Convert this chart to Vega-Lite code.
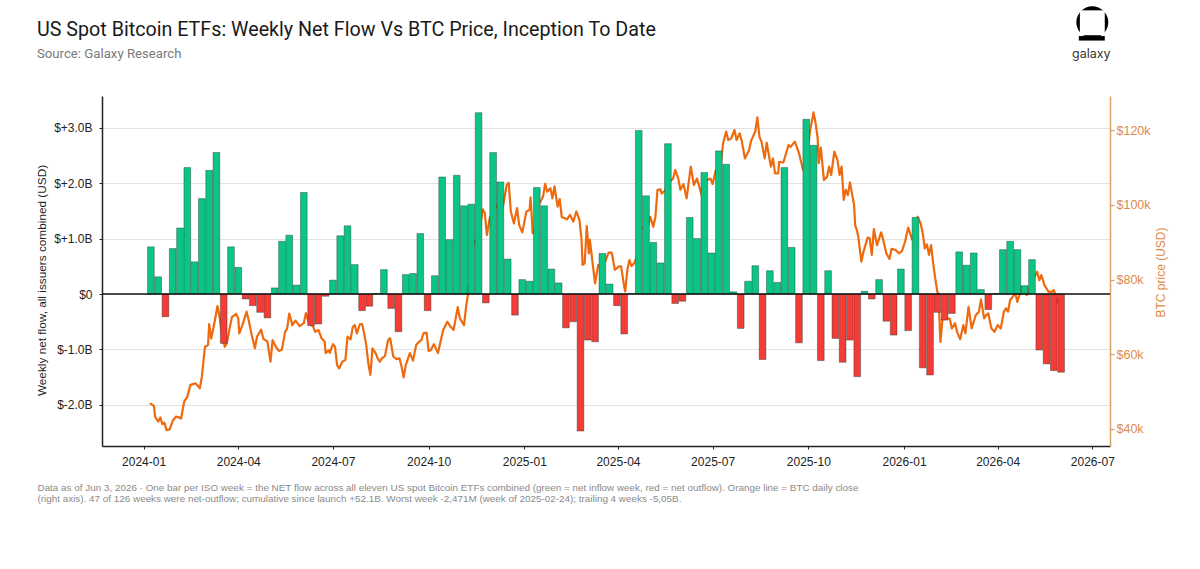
{"$schema":"https://vega.github.io/schema/vega-lite/v6.json","width":1008,"height":350,"autosize":{"type":"none"},"padding":{"left":102,"top":96,"right":90,"bottom":123},"background":"white",
"title":{"text":"US Spot Bitcoin ETFs: Weekly Net Flow Vs BTC Price, Inception To Date","subtitle":"Source: Galaxy Research","anchor":"start","frame":"group","dx":-65,"offset":-54,"font":"Roboto","fontSize":19.7,"fontWeight":"normal","color":"#1a1a1a","subtitleFont":"Roboto","subtitleFontSize":13.2,"subtitleColor":"#7a7a7a","subtitlePadding":8},
"datasets":{"flows":[
{"week":"2024-01-08","flow":0.85},{"week":"2024-01-15","flow":0.31},{"week":"2024-01-22","flow":-0.41},{"week":"2024-01-29","flow":0.82},{"week":"2024-02-05","flow":1.19},{"week":"2024-02-12","flow":2.28},{"week":"2024-02-19","flow":0.58},{"week":"2024-02-26","flow":1.72},{"week":"2024-03-04","flow":2.23},{"week":"2024-03-11","flow":2.55},{"week":"2024-03-18","flow":-0.89},{"week":"2024-03-25","flow":0.85},{"week":"2024-04-01","flow":0.48},{"week":"2024-04-08","flow":-0.09},{"week":"2024-04-15","flow":-0.21},{"week":"2024-04-22","flow":-0.33},{"week":"2024-04-29","flow":-0.43},{"week":"2024-05-06","flow":0.11},{"week":"2024-05-13","flow":0.95},{"week":"2024-05-20","flow":1.06},{"week":"2024-05-27","flow":0.16},{"week":"2024-06-03","flow":1.83},{"week":"2024-06-10","flow":-0.57},{"week":"2024-06-17","flow":-0.54},{"week":"2024-06-24","flow":-0.04},{"week":"2024-07-01","flow":0.25},{"week":"2024-07-08","flow":1.05},{"week":"2024-07-15","flow":1.23},{"week":"2024-07-22","flow":0.53},{"week":"2024-07-29","flow":-0.30},{"week":"2024-08-05","flow":-0.22},{"week":"2024-08-12","flow":0.01},{"week":"2024-08-19","flow":0.44},{"week":"2024-08-26","flow":-0.26},{"week":"2024-09-02","flow":-0.68},{"week":"2024-09-09","flow":0.35},{"week":"2024-09-16","flow":0.37},{"week":"2024-09-23","flow":1.09},{"week":"2024-09-30","flow":-0.30},{"week":"2024-10-07","flow":0.33},{"week":"2024-10-14","flow":2.11},{"week":"2024-10-21","flow":0.98},{"week":"2024-10-28","flow":2.14},{"week":"2024-11-04","flow":1.59},{"week":"2024-11-11","flow":1.62},{"week":"2024-11-18","flow":3.27},{"week":"2024-11-25","flow":-0.16},{"week":"2024-12-02","flow":2.55},{"week":"2024-12-09","flow":2.02},{"week":"2024-12-16","flow":0.63},{"week":"2024-12-23","flow":-0.38},{"week":"2024-12-30","flow":0.26},{"week":"2025-01-06","flow":0.23},{"week":"2025-01-13","flow":1.92},{"week":"2025-01-20","flow":1.59},{"week":"2025-01-27","flow":0.45},{"week":"2025-02-03","flow":0.20},{"week":"2025-02-10","flow":-0.61},{"week":"2025-02-17","flow":-0.50},{"week":"2025-02-24","flow":-2.47},{"week":"2025-03-03","flow":-0.83},{"week":"2025-03-10","flow":-0.86},{"week":"2025-03-17","flow":0.73},{"week":"2025-03-24","flow":0.18},{"week":"2025-03-31","flow":-0.21},{"week":"2025-04-07","flow":-0.72},{"week":"2025-04-14","flow":0.01},{"week":"2025-04-21","flow":2.95},{"week":"2025-04-28","flow":1.77},{"week":"2025-05-05","flow":0.93},{"week":"2025-05-12","flow":0.56},{"week":"2025-05-19","flow":2.71},{"week":"2025-05-26","flow":-0.17},{"week":"2025-06-02","flow":-0.13},{"week":"2025-06-09","flow":1.38},{"week":"2025-06-16","flow":1.0},{"week":"2025-06-23","flow":2.19},{"week":"2025-06-30","flow":0.74},{"week":"2025-07-07","flow":2.58},{"week":"2025-07-14","flow":2.34},{"week":"2025-07-21","flow":0.04},{"week":"2025-07-28","flow":-0.62},{"week":"2025-08-04","flow":0.23},{"week":"2025-08-11","flow":0.51},{"week":"2025-08-18","flow":-1.18},{"week":"2025-08-25","flow":0.42},{"week":"2025-09-01","flow":0.21},{"week":"2025-09-08","flow":2.28},{"week":"2025-09-15","flow":0.84},{"week":"2025-09-22","flow":-0.88},{"week":"2025-09-29","flow":3.15},{"week":"2025-10-06","flow":2.68},{"week":"2025-10-13","flow":-1.20},{"week":"2025-10-20","flow":0.42},{"week":"2025-10-27","flow":-0.80},{"week":"2025-11-03","flow":-1.23},{"week":"2025-11-10","flow":-0.83},{"week":"2025-11-17","flow":-1.49},{"week":"2025-11-24","flow":0.05},{"week":"2025-12-01","flow":-0.09},{"week":"2025-12-08","flow":0.26},{"week":"2025-12-15","flow":-0.49},{"week":"2025-12-22","flow":-0.74},{"week":"2025-12-29","flow":0.45},{"week":"2026-01-05","flow":-0.66},{"week":"2026-01-12","flow":1.38},{"week":"2026-01-19","flow":-1.33},{"week":"2026-01-26","flow":-1.46},{"week":"2026-02-02","flow":-0.33},{"week":"2026-02-09","flow":-0.47},{"week":"2026-02-16","flow":-0.35},{"week":"2026-02-23","flow":0.76},{"week":"2026-03-02","flow":0.52},{"week":"2026-03-09","flow":0.74},{"week":"2026-03-16","flow":0.08},{"week":"2026-03-23","flow":-0.28},{"week":"2026-03-30","flow":0.01},{"week":"2026-04-06","flow":0.80},{"week":"2026-04-13","flow":0.95},{"week":"2026-04-20","flow":0.80},{"week":"2026-04-27","flow":0.15},{"week":"2026-05-04","flow":0.62},{"week":"2026-05-11","flow":-1.01},{"week":"2026-05-18","flow":-1.26},{"week":"2026-05-25","flow":-1.38},{"week":"2026-06-01","flow":-1.41}],
"btc":[
{"date":"2024-01-07","price":46.9},{"date":"2024-01-11","price":46.1},{"date":"2024-01-12","price":43.3},{"date":"2024-01-15","price":42},{"date":"2024-01-17","price":43.1},{"date":"2024-01-19","price":41.3},{"date":"2024-01-21","price":41.7},{"date":"2024-01-23","price":39.7},{"date":"2024-01-26","price":39.9},{"date":"2024-01-29","price":42.2},{"date":"2024-02-01","price":43.3},{"date":"2024-02-04","price":43.1},{"date":"2024-02-06","price":42.8},{"date":"2024-02-09","price":47.3},{"date":"2024-02-12","price":48.6},{"date":"2024-02-15","price":51.8},{"date":"2024-02-20","price":52.2},{"date":"2024-02-24","price":50.9},{"date":"2024-02-26","price":54},{"date":"2024-02-29","price":62},{"date":"2024-03-03","price":62.5},{"date":"2024-03-04","price":68.1},{"date":"2024-03-06","price":64.2},{"date":"2024-03-09","price":68.3},{"date":"2024-03-12","price":72.9},{"date":"2024-03-14","price":70},{"date":"2024-03-16","price":66},{"date":"2024-03-19","price":62},{"date":"2024-03-21","price":62.9},{"date":"2024-03-24","price":67.4},{"date":"2024-03-26","price":70},{"date":"2024-03-30","price":70.8},{"date":"2024-04-01","price":69.6},{"date":"2024-04-02","price":65.6},{"date":"2024-04-05","price":67.8},{"date":"2024-04-09","price":71.4},{"date":"2024-04-11","price":69.1},{"date":"2024-04-14","price":65.1},{"date":"2024-04-17","price":61.6},{"date":"2024-04-19","price":64.7},{"date":"2024-04-23","price":66.6},{"date":"2024-04-25","price":64.2},{"date":"2024-04-29","price":63.4},{"date":"2024-05-02","price":58},{"date":"2024-05-04","price":63.8},{"date":"2024-05-07","price":62},{"date":"2024-05-10","price":60.9},{"date":"2024-05-13","price":61.3},{"date":"2024-05-16","price":66},{"date":"2024-05-18","price":66.9},{"date":"2024-05-20","price":70.9},{"date":"2024-05-23","price":67.8},{"date":"2024-05-26","price":69},{"date":"2024-05-30","price":67.5},{"date":"2024-06-03","price":68.3},{"date":"2024-06-05","price":71},{"date":"2024-06-08","price":68.3},{"date":"2024-06-12","price":67.4},{"date":"2024-06-14","price":66},{"date":"2024-06-17","price":66.5},{"date":"2024-06-20","price":64.3},{"date":"2024-06-23","price":63.4},{"date":"2024-06-24","price":60.3},{"date":"2024-06-27","price":61.1},{"date":"2024-06-28","price":60.4},{"date":"2024-07-01","price":62.7},{"date":"2024-07-03","price":62},{"date":"2024-07-05","price":57.1},{"date":"2024-07-07","price":56.2},{"date":"2024-07-10","price":58},{"date":"2024-07-13","price":58.5},{"date":"2024-07-15","price":64.7},{"date":"2024-07-18","price":64},{"date":"2024-07-20","price":67.2},{"date":"2024-07-22","price":67.8},{"date":"2024-07-24","price":65.6},{"date":"2024-07-27","price":68.1},{"date":"2024-07-29","price":68.1},{"date":"2024-07-31","price":65.6},{"date":"2024-08-02","price":62.5},{"date":"2024-08-04","price":57.6},{"date":"2024-08-06","price":54.5},{"date":"2024-08-08","price":61.6},{"date":"2024-08-11","price":60.3},{"date":"2024-08-13","price":58.9},{"date":"2024-08-15","price":58},{"date":"2024-08-17","price":58.9},{"date":"2024-08-20","price":59.5},{"date":"2024-08-23","price":63.8},{"date":"2024-08-25","price":64.3},{"date":"2024-08-28","price":59.4},{"date":"2024-08-31","price":58.7},{"date":"2024-09-03","price":58.9},{"date":"2024-09-05","price":56.7},{"date":"2024-09-07","price":53.8},{"date":"2024-09-09","price":57.1},{"date":"2024-09-13","price":60.3},{"date":"2024-09-16","price":58.3},{"date":"2024-09-19","price":62.5},{"date":"2024-09-22","price":63.4},{"date":"2024-09-24","price":63.8},{"date":"2024-09-26","price":65.6},{"date":"2024-09-29","price":65.8},{"date":"2024-10-01","price":60.9},{"date":"2024-10-03","price":61.1},{"date":"2024-10-06","price":62.7},{"date":"2024-10-10","price":60.3},{"date":"2024-10-12","price":62.9},{"date":"2024-10-15","price":66.5},{"date":"2024-10-19","price":68.7},{"date":"2024-10-22","price":67.4},{"date":"2024-10-25","price":66.5},{"date":"2024-10-29","price":72.6},{"date":"2024-10-31","price":69.6},{"date":"2024-11-04","price":67.8},{"date":"2024-11-06","price":72.7},{"date":"2024-11-08","price":76.3},{"date":"2024-11-11","price":87},{"date":"2024-11-14","price":90},{"date":"2024-11-18","price":91},{"date":"2024-11-21","price":97},{"date":"2024-11-22","price":98.8},{"date":"2024-11-24","price":97.7},{"date":"2024-11-26","price":91.9},{"date":"2024-11-29","price":96.8},{"date":"2024-12-01","price":97},{"date":"2024-12-04","price":99},{"date":"2024-12-06","price":100},{"date":"2024-12-09","price":97},{"date":"2024-12-12","price":100.4},{"date":"2024-12-15","price":105.3},{"date":"2024-12-17","price":105.9},{"date":"2024-12-19","price":98.2},{"date":"2024-12-22","price":95},{"date":"2024-12-25","price":99.1},{"date":"2024-12-27","price":94.6},{"date":"2024-12-30","price":92.6},{"date":"2025-01-03","price":98.2},{"date":"2025-01-06","price":98.6},{"date":"2025-01-07","price":102},{"date":"2025-01-09","price":92.4},{"date":"2025-01-12","price":94},{"date":"2025-01-15","price":100},{"date":"2025-01-19","price":102.2},{"date":"2025-01-21","price":105.6},{"date":"2025-01-23","price":103.5},{"date":"2025-01-26","price":104.4},{"date":"2025-01-28","price":101.7},{"date":"2025-01-30","price":104.9},{"date":"2025-02-02","price":99.5},{"date":"2025-02-04","price":101.5},{"date":"2025-02-06","price":96.7},{"date":"2025-02-11","price":96.1},{"date":"2025-02-14","price":97.3},{"date":"2025-02-17","price":95.5},{"date":"2025-02-20","price":98.2},{"date":"2025-02-23","price":95.9},{"date":"2025-02-25","price":90.6},{"date":"2025-02-26","price":83.9},{"date":"2025-02-28","price":84.3},{"date":"2025-03-02","price":94.3},{"date":"2025-03-04","price":87},{"date":"2025-03-05","price":90.6},{"date":"2025-03-08","price":83.5},{"date":"2025-03-10","price":79},{"date":"2025-03-13","price":83.9},{"date":"2025-03-16","price":84},{"date":"2025-03-20","price":85},{"date":"2025-03-23","price":87.2},{"date":"2025-03-26","price":87.2},{"date":"2025-03-29","price":82.6},{"date":"2025-04-02","price":83.5},{"date":"2025-04-04","price":83.5},{"date":"2025-04-07","price":78.1},{"date":"2025-04-08","price":76.8},{"date":"2025-04-10","price":82.6},{"date":"2025-04-12","price":85.2},{"date":"2025-04-14","price":83.6},{"date":"2025-04-17","price":84.5},{"date":"2025-04-21","price":87.5},{"date":"2025-04-23","price":93.5},{"date":"2025-04-27","price":94},{"date":"2025-04-30","price":94.2},{"date":"2025-05-02","price":96.8},{"date":"2025-05-05","price":94.1},{"date":"2025-05-07","price":96.8},{"date":"2025-05-09","price":104},{"date":"2025-05-12","price":104.1},{"date":"2025-05-13","price":103},{"date":"2025-05-16","price":103.7},{"date":"2025-05-20","price":106},{"date":"2025-05-24","price":107},{"date":"2025-05-26","price":109.3},{"date":"2025-05-29","price":107},{"date":"2025-05-31","price":104},{"date":"2025-06-03","price":105.5},{"date":"2025-06-06","price":101.7},{"date":"2025-06-10","price":110.2},{"date":"2025-06-13","price":105.3},{"date":"2025-06-16","price":107},{"date":"2025-06-19","price":104},{"date":"2025-06-22","price":101},{"date":"2025-06-25","price":106.5},{"date":"2025-06-29","price":107},{"date":"2025-07-01","price":105.5},{"date":"2025-07-04","price":109.3},{"date":"2025-07-07","price":108.5},{"date":"2025-07-09","price":111},{"date":"2025-07-11","price":116.4},{"date":"2025-07-14","price":119.6},{"date":"2025-07-16","price":117.3},{"date":"2025-07-19","price":117.8},{"date":"2025-07-22","price":120},{"date":"2025-07-24","price":117.3},{"date":"2025-07-27","price":119.1},{"date":"2025-07-29","price":117.1},{"date":"2025-08-01","price":112.4},{"date":"2025-08-05","price":114.6},{"date":"2025-08-07","price":117.1},{"date":"2025-08-11","price":119.6},{"date":"2025-08-13","price":123.4},{"date":"2025-08-15","price":118.2},{"date":"2025-08-17","price":116.9},{"date":"2025-08-20","price":112.4},{"date":"2025-08-22","price":116.6},{"date":"2025-08-26","price":110.2},{"date":"2025-08-28","price":112.4},{"date":"2025-08-30","price":108.4},{"date":"2025-09-02","price":108.4},{"date":"2025-09-03","price":111.5},{"date":"2025-09-07","price":111.3},{"date":"2025-09-12","price":116},{"date":"2025-09-14","price":115.5},{"date":"2025-09-18","price":116.9},{"date":"2025-09-22","price":113.8},{"date":"2025-09-26","price":109.3},{"date":"2025-09-30","price":114},{"date":"2025-10-03","price":120.5},{"date":"2025-10-05","price":123.1},{"date":"2025-10-06","price":124.7},{"date":"2025-10-08","price":121.8},{"date":"2025-10-10","price":117.8},{"date":"2025-10-11","price":111.1},{"date":"2025-10-13","price":115.3},{"date":"2025-10-16","price":106.6},{"date":"2025-10-19","price":107.5},{"date":"2025-10-21","price":110.2},{"date":"2025-10-23","price":108},{"date":"2025-10-26","price":114.2},{"date":"2025-10-29","price":112},{"date":"2025-10-31","price":108},{"date":"2025-11-02","price":110.2},{"date":"2025-11-04","price":101.3},{"date":"2025-11-06","price":104},{"date":"2025-11-08","price":102.6},{"date":"2025-11-10","price":106},{"date":"2025-11-14","price":99.9},{"date":"2025-11-15","price":94.6},{"date":"2025-11-17","price":92.8},{"date":"2025-11-18","price":91.5},{"date":"2025-11-21","price":84.8},{"date":"2025-11-23","price":87.4},{"date":"2025-11-27","price":91.2},{"date":"2025-11-29","price":91},{"date":"2025-12-01","price":86.6},{"date":"2025-12-03","price":93.5},{"date":"2025-12-06","price":89.2},{"date":"2025-12-10","price":92.6},{"date":"2025-12-12","price":90.6},{"date":"2025-12-15","price":87},{"date":"2025-12-18","price":85.5},{"date":"2025-12-20","price":88.2},{"date":"2025-12-24","price":87.9},{"date":"2025-12-27","price":87},{"date":"2025-12-30","price":87.6},{"date":"2026-01-02","price":90.1},{"date":"2026-01-05","price":93.9},{"date":"2026-01-09","price":90.6},{"date":"2026-01-11","price":91},{"date":"2026-01-14","price":96.8},{"date":"2026-01-17","price":95},{"date":"2026-01-19","price":92.4},{"date":"2026-01-21","price":88.3},{"date":"2026-01-23","price":89.4},{"date":"2026-01-25","price":86.6},{"date":"2026-01-27","price":89.2},{"date":"2026-01-29","price":84.4},{"date":"2026-01-31","price":80.3},{"date":"2026-02-02","price":76.7},{"date":"2026-02-03","price":76.3},{"date":"2026-02-05","price":63.3},{"date":"2026-02-07","price":69.6},{"date":"2026-02-11","price":69.6},{"date":"2026-02-14","price":69.5},{"date":"2026-02-16","price":66.9},{"date":"2026-02-19","price":68.3},{"date":"2026-02-21","price":66},{"date":"2026-02-24","price":64},{"date":"2026-02-27","price":67.8},{"date":"2026-03-01","price":65.6},{"date":"2026-03-04","price":72.7},{"date":"2026-03-07","price":66.9},{"date":"2026-03-11","price":70.5},{"date":"2026-03-14","price":71.4},{"date":"2026-03-16","price":74.7},{"date":"2026-03-19","price":69.6},{"date":"2026-03-21","price":70.5},{"date":"2026-03-23","price":70.9},{"date":"2026-03-26","price":66.9},{"date":"2026-03-29","price":66},{"date":"2026-04-01","price":67.8},{"date":"2026-04-04","price":66.9},{"date":"2026-04-07","price":71.4},{"date":"2026-04-09","price":72.3},{"date":"2026-04-11","price":71.4},{"date":"2026-04-13","price":74.5},{"date":"2026-04-15","price":75.2},{"date":"2026-04-18","price":76.3},{"date":"2026-04-20","price":74},{"date":"2026-04-24","price":78},{"date":"2026-04-29","price":75.8},{"date":"2026-05-02","price":78},{"date":"2026-05-05","price":80},{"date":"2026-05-09","price":82.1},{"date":"2026-05-11","price":79.8},{"date":"2026-05-13","price":81.2},{"date":"2026-05-16","price":78.5},{"date":"2026-05-20","price":76.7},{"date":"2026-05-23","price":76.7},{"date":"2026-05-25","price":77.2},{"date":"2026-05-29","price":73.6}]},
"layer":[
{"data":{"name":"btc"},"mark":{"type":"line","color":"#EE6A0E","strokeWidth":2.2,"interpolate":"linear","strokeJoin":"round"},
"encoding":{"x":{"field":"date","type":"temporal","scale":{"type":"utc","nice":false,"padding":0,"domain":["2023-11-22","2026-07-18"]},
"axis":{"format":"%Y-%m","tickCount":{"interval":"month","step":3},"grid":false,"labelFont":"Liberation Sans","labelFontSize":12,"labelColor":"#222","labelPadding":7,"domainColor":"#222","domainWidth":1.5,"tickColor":"#222","tickSize":3,"title":["Data as of Jun 3, 2026 · One bar per ISO week = the NET flow across all eleven US spot Bitcoin ETFs combined (green = net inflow week, red = net outflow). Orange line = BTC daily close","(right axis). 47 of 126 weeks were net-outflow; cumulative since launch +52.1B. Worst week -2,471M (week of 2025-02-24); trailing 4 weeks -5,05B."],"titleFont":"Liberation Sans","titleFontSize":9.9,"titleFontWeight":"normal","titleColor":"#8a8a8a","titleAlign":"left","titleAnchor":"start","titleBaseline":"top","titleLimit":1200,"titleLineHeight":11,"titleX":-65,"titleY":36}},
"y":{"field":"price","type":"quantitative","scale":{"domain":[35.45,129.1],"nice":false,"zero":false},"axis":{"orient":"right","values":[40,60,80,100,120],"labelExpr":"'$'+datum.value+'k'","grid":false,"title":"BTC price (USD)","titleColor":"#E08A45","titleFont":"Liberation Sans","titleFontSize":12,"titleFontWeight":"normal","titleAngle":270,"titleX":57,"titleY":176,"labelColor":"#E08A45","labelFont":"Liberation Sans","labelFontSize":12.5,"domainColor":"#D9A066","domainWidth":1.5,"tickColor":"#D9A066","tickSize":4,"tickWidth":1.2}}}},
{"layer":[
{"data":{"name":"flows"},"mark":{"type":"bar","width":6.7,"stroke":"#1c3a32","strokeWidth":0.6,"strokeOpacity":0.7},
"encoding":{"x":{"field":"week","type":"temporal","scale":{"type":"utc","nice":false,"padding":0,"domain":["2023-11-22","2026-07-18"]},
"axis":{"format":"%Y-%m","tickCount":{"interval":"month","step":3},"grid":false,"labelFont":"Liberation Sans","labelFontSize":12,"labelColor":"#222","labelPadding":7,"domainColor":"#222","domainWidth":1.5,"tickColor":"#222","tickSize":3,"title":["Data as of Jun 3, 2026 · One bar per ISO week = the NET flow across all eleven US spot Bitcoin ETFs combined (green = net inflow week, red = net outflow). Orange line = BTC daily close","(right axis). 47 of 126 weeks were net-outflow; cumulative since launch +52.1B. Worst week -2,471M (week of 2025-02-24); trailing 4 weeks -5,05B."],"titleFont":"Liberation Sans","titleFontSize":9.9,"titleFontWeight":"normal","titleColor":"#8a8a8a","titleAlign":"left","titleAnchor":"start","titleBaseline":"top","titleLimit":1200,"titleLineHeight":11,"titleX":-65,"titleY":36}},
"y":{"field":"flow","type":"quantitative","stack":null,"scale":{"domain":[-2.74,3.57],"nice":false,"zero":false},
"axis":{"orient":"left","values":[-2,-1,0,1,2,3],"labelExpr":"datum.value==0?'$0':(datum.value>0?'$+':'$-')+format(abs(datum.value),'.1f')+'B'","grid":true,"gridColor":"#e2e2e2","gridWidth":1.2,"labelFont":"Liberation Sans","labelFontSize":12,"labelColor":"#222","labelPadding":7,"domainColor":"#222","domainWidth":1.5,"tickColor":"#222","tickSize":3,"title":"Weekly net flow, all issuers combined (USD)","titleFont":"Liberation Sans","titleFontSize":11.8,"titleFontWeight":"normal","titleColor":"#222","titleX":-55,"titleY":184}},
"color":{"condition":{"test":"datum.flow>0","value":"#0CC584"},"value":"#F53B35"}}},
{"data":{"values":[{}]},"mark":{"type":"rule","color":"#111","strokeWidth":1.6},"encoding":{"y":{"datum":0}}},
{"data":{"values":[{}]},"mark":{"type":"point","shape":"circle","filled":true,"color":"#000","size":1020,"opacity":1},"encoding":{"x":{"datum":{"year":2026,"month":7,"date":1,"utc":true},"type":"temporal"},"y":{"datum":4.9}}},
{"data":{"values":[{}]},"mark":{"type":"point","shape":"square","filled":true,"color":"#fff","size":620,"opacity":1},"encoding":{"x":{"datum":{"year":2026,"month":7,"date":1,"utc":true},"type":"temporal"},"y":{"datum":4.89}}},
{"data":{"values":[{}]},"mark":{"type":"rule","color":"#000","strokeWidth":4.5},"encoding":{"x":{"datum":{"year":2026,"month":6,"date":18,"utc":true},"type":"temporal"},"x2":{"datum":{"year":2026,"month":7,"date":13,"utc":true}},"y":{"datum":4.61}}},
{"data":{"values":[{}]},"mark":{"type":"text","text":"galaxy","font":"Inter","fontSize":12.5,"color":"#333"},"encoding":{"x":{"datum":{"year":2026,"month":6,"date":30,"utc":true},"type":"temporal"},"y":{"datum":4.33}}}
]}
],
"resolve":{"scale":{"y":"independent"}},
"config":{"view":{"stroke":null}}}
